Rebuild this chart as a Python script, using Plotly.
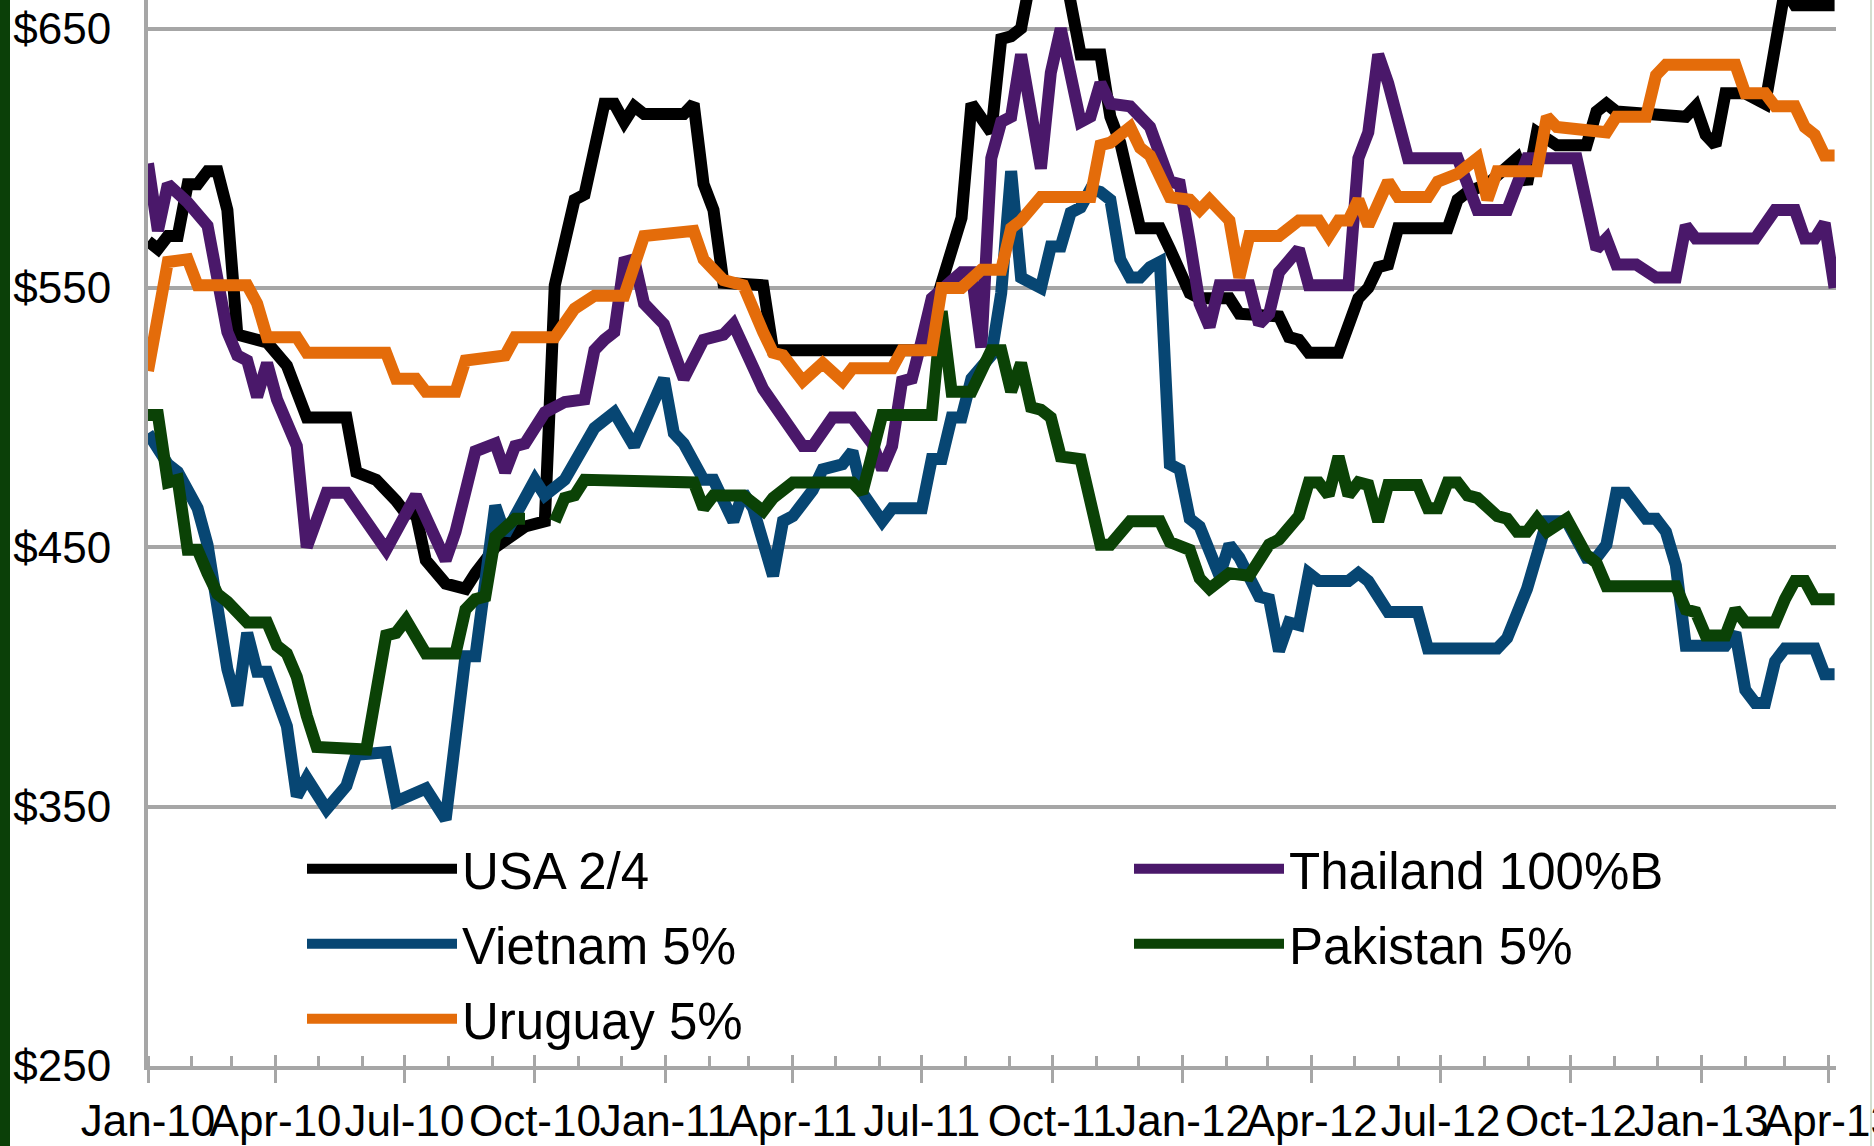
import pandas as pd
import plotly.graph_objects as go

# ---------------- data (weekly observations, week 0 = 1 Jan 2010) ----------------
START = "2010-01-01"

usa_weeks = [0, 1, 2, 3, 4, 5, 6, 7, 8, 9, 12, 14, 16, 20, 21, 23, 25, 26, 27, 28, 30, 32, 33, 35, 38, 40,
             41, 43, 44, 46, 47, 48, 49, 50, 54, 55, 56, 57, 58, 62, 63, 78, 80, 82, 83, 85, 86, 87, 88, 89,
             90, 91, 92, 94, 96, 97, 98, 100, 102, 103, 105, 106, 109, 110, 114, 115, 116, 117, 120, 122, 123,
             124, 125, 126, 131, 132, 133, 135, 138, 139, 140, 142, 145, 146, 147, 148, 153, 155, 156, 157,
             158, 159, 161, 163, 165, 166, 170]
usa_values = [568, 565, 570, 570, 590, 590, 595, 595, 580, 532, 529, 520, 500, 500, 479, 476, 468, 463, 463, 445,
              436, 434, 440, 450, 458, 460, 551, 584, 586, 621, 621, 614, 620, 617, 617, 621, 590, 580, 552, 551,
              526, 526, 552, 577, 621, 610, 646, 647, 650, 672, 690, 690, 680, 640, 640, 616, 606, 573, 573, 565,
              548, 546, 546, 540, 539, 531, 530, 525, 525, 546, 550, 558, 559, 573, 573, 584, 587, 590, 600, 590,
              610, 605, 605, 618, 621, 618, 616, 616, 620, 609, 605, 625, 625, 621, 665, 659, 659]

thai_weeks = [0, 1, 2, 4, 6, 7, 8, 9, 10, 11, 12, 13, 15, 16, 18, 20, 24, 27, 30, 31, 33, 35, 36, 37, 38, 40, 42,
              44, 45, 46, 47, 48, 49, 50, 52, 54, 55, 56, 58, 59, 62, 66, 67, 69, 71, 73, 74, 75, 76, 77, 78, 79,
              82, 83, 84, 85, 86, 87, 88, 90, 91, 92, 94, 95, 96, 97, 99, 101, 103, 104, 105, 106, 107, 108, 111,
              112, 113, 114, 116, 117, 121, 122, 123, 124, 125, 127, 132, 134, 137, 139, 144, 146, 147, 148, 150,
              152, 154, 155, 156, 162, 164, 166, 167, 168, 169, 170]
thai_values = [598, 572, 590, 583, 574, 551, 533, 524, 522, 508, 521, 507, 489, 450, 471, 471, 449, 470, 445, 456,
               487, 490, 479, 489, 490, 502, 506, 507, 526, 530, 533, 560, 561, 544, 536, 515, 522, 530, 532, 536,
               511, 489, 489, 500, 500, 490, 480, 489, 514, 515, 530, 546, 556, 556, 527, 600, 614, 616, 640, 596,
               633, 650, 614, 616, 629, 621, 620, 612, 591, 590, 568, 544, 535, 551, 551, 536, 540, 556, 565, 551,
               551, 600, 610, 640, 629, 600, 600, 580, 580, 600, 600, 565, 569, 559, 559, 554, 554, 574, 569, 569,
               580, 580, 569, 569, 575, 550]

viet_weeks = [0, 2, 3, 5, 6, 8, 9, 10, 11, 12, 14, 15, 16, 18, 20, 21, 24, 25, 28, 30, 32, 33, 35, 36, 39, 40, 42,
              45, 47, 49, 52, 53, 54, 56, 57, 59, 60, 61, 63, 64, 65, 67, 68, 70, 71, 72, 74, 75, 78, 79, 80, 81,
              82, 83, 85, 86, 87, 88, 90, 91, 92, 93, 94, 95, 96, 97, 98, 99, 100, 101, 102, 103, 104, 105, 106,
              108, 109, 110, 112, 113, 114, 115, 116, 117, 118, 121, 122, 123, 125, 128, 129, 136, 137, 139, 141,
              143, 145, 146, 147, 148, 149, 151, 152, 153, 154, 155, 159, 160, 161, 162, 163, 164, 165, 168, 169,
              170]
viet_values = [494, 482, 479, 465, 451, 403, 389, 417, 402, 402, 381, 354, 361, 349, 358, 370, 371, 352, 357, 345,
               408, 408, 466, 455, 476, 470, 476, 496, 502, 489, 515, 494, 490, 476, 476, 460, 471, 465, 439, 460,
               462, 472, 480, 482, 487, 471, 460, 465, 465, 484, 484, 500, 500, 515, 524, 548, 595, 554, 550, 566,
               566, 579, 581, 588, 587, 584, 561, 554, 554, 558, 560, 482, 480, 461, 458, 439, 451, 446, 431, 430,
               410, 421, 420, 440, 437, 437, 440, 437, 425, 425, 411, 411, 415, 434, 460, 460, 446, 446, 451, 471,
               471, 461, 461, 456, 443, 412, 412, 417, 395, 390, 390, 406, 411, 411, 401, 401]

pak_weeks = [0, 1, 2, 3, 4, 5, 6, 7, 8, 10, 12, 13, 14, 15, 16, 17, 22, 24, 25, 26, 28, 31, 32, 33, 34, 35, 37, 38,
             39, 41, 42, 43, 44, 55, 56, 57, 60, 62, 63, 65, 71, 72, 74, 79, 80, 81, 83, 85, 86, 87, 88, 89, 90,
             91, 92, 94, 96, 97, 99, 102, 103, 105, 106, 107, 109, 111, 113, 114, 116, 117, 118, 119, 120, 121,
             122, 123, 124, 125, 128, 129, 130, 131, 132, 133, 134, 136, 137, 138, 139, 140, 141, 143, 145, 146,
             147, 154, 155, 156, 157, 159, 160, 161, 164, 165, 166, 167, 168, 170]
pak_values = [501, 501, 475, 476, 449, 449, 440, 432, 429, 421, 421, 412, 409, 400, 385, 373, 372, 416, 417, 422,
              409, 409, 426, 430, 431, 454, 461, 461, None, 460, 469, 470, 476, 475, 465, 470, 470, 464, 469, 475,
              475, 471, 501, 501, 541, 510, 510, 526, 526, 510, 521, 504, 503, 500, 485, 484, 451, 451, 460, 460,
              452, 449, 438, 434, 440, 439, 451, 453, 462, 475, 475, 470, 485, 470, 475, 474, 460, 474, 474, 465,
              465, 475, 475, 470, 469, 462, 461, 456, 456, 461, 456, 461, 447, 444, 435, 435, 426, 425, 416, 416,
              426, 421, 421, 430, 437, 437, 430, 430]

uru_weeks = [0, 1, 2, 4, 5, 10, 11, 12, 15, 16, 24, 25, 27, 28, 31, 32, 36, 37, 41, 43, 45, 48, 49, 50, 55, 56, 58,
             60, 62, 63, 64, 66, 68, 70, 71, 75, 76, 79, 80, 82, 84, 86, 87, 88, 90, 95, 96, 97, 98, 99, 100, 101,
             103, 105, 106, 107, 109, 110, 111, 114, 116, 118, 119, 120, 121, 122, 123, 125, 126, 129, 130, 132,
             134, 135, 136, 140, 141, 142, 147, 148, 151, 152, 153, 160, 161, 163, 164, 166, 167, 168, 169, 170]
uru_values = [518, 540, 560, 561, 551, 551, 544, 531, 531, 525, 525, 515, 515, 510, 510, 522, 524, 531, 531, 542,
              547, 547, 557, 570, 572, 561, 553, 551, 533, 525, 524, 514, 521, 514, 519, 519, 526, 526, 550, 550,
              557, 557, 573, 576, 585, 585, 605, 606, 609, 612, 604, 601, 585, 584, 580, 584, 576, 554, 570, 570,
              576, 576, 570, 576, 576, 584, 574, 591, 585, 585, 591, 594, 600, 584, 595, 595, 616, 612, 610, 616,
              616, 632, 636, 636, 625, 625, 620, 620, 612, 609, 601, 601]

series_names = ["USA 2/4", "Thailand 100%B", "Vietnam 5%", "Pakistan 5%", "Uruguay 5%"]
series_colors = ["#000000", "#4A186A", "#074673", "#0B4206", "#E46C0A"]

quarter_ticks = ["2010-01-01", "2010-04-01", "2010-07-01", "2010-10-01", "2011-01-01", "2011-04-01",
                 "2011-07-01", "2011-10-01", "2012-01-01", "2012-04-01", "2012-07-01", "2012-10-01",
                 "2013-01-01", "2013-04-01"]
quarter_labels = ["Jan-10", "Apr-10", "Jul-10", "Oct-10", "Jan-11", "Apr-11", "Jul-11", "Oct-11",
                  "Jan-12", "Apr-12", "Jul-12", "Oct-12", "Jan-13", "Apr-13"]
y_ticks = [250, 350, 450, 550, 650]
y_labels = ["$250", "$350", "$450", "$550", "$650"]

# ---------------- figure ----------------
W, H = 1874, 1146
ML, MR, MT, MB = 148, 38, 0, 80
PW, PH = W - ML - MR, H - MT - MB
GRID = "#A6A6A6"
FONT = "Liberation Sans, Arial, sans-serif"


def week_dates(weeks):
    start = pd.Timestamp(START)
    return [start + pd.Timedelta(days=7 * w) for w in weeks]


all_weeks = [usa_weeks, thai_weeks, viet_weeks, pak_weeks, uru_weeks]
all_values = [usa_values, thai_values, viet_values, pak_values, uru_values]
legend_ids = ["legend", "legend2", "legend3", "legend4", "legend5"]
# legend slot: (left px of legend box, row-centre px from top of figure)
COL1, COL2 = 302, 1129
ROW1, ROW2, ROW3 = 869, 944, 1019
legend_slots = [(COL1, ROW1), (COL2, ROW1), (COL1, ROW2), (COL2, ROW2), (COL1, ROW3)]

fig = go.Figure()
for name, color, wk, vals, lg in zip(series_names, series_colors, all_weeks, all_values, legend_ids):
    fig.add_trace(go.Scatter(
        x=week_dates(wk), y=vals, name=name, mode="lines",
        line=dict(color=color, width=12), connectgaps=False, legend=lg,
    ))

# empty helper trace so the overlay axis (inner half of the major ticks) is drawn
fig.add_trace(go.Scatter(x=[], y=[], xaxis="x2", showlegend=False, hoverinfo="skip"))

month_ticks = list(pd.date_range(quarter_ticks[0], quarter_ticks[-1], freq="MS"))
x_range = ["2010-01-01", "2013-04-06"]

leg_common = dict(orientation="h", xanchor="left", yanchor="middle", itemwidth=150,
                  bgcolor="rgba(0,0,0,0)", font=dict(family=FONT, size=51, color="#000000"),
                  borderwidth=0, itemclick=False, itemdoubleclick=False)
legend_layout = {}
for lg, (px, py) in zip(legend_ids, legend_slots):
    legend_layout[lg] = dict(leg_common, x=(px - ML) / PW, y=1 - (py - MT) / PH)

fig.update_layout(
    width=W, height=H,
    margin=dict(l=ML, r=MR, t=MT, b=MB, autoexpand=False),
    paper_bgcolor="white", plot_bgcolor="white",
    font=dict(family=FONT, color="#000000"),
    showlegend=True,
    **legend_layout,
    xaxis=dict(
        type="date", range=x_range, showgrid=False, zeroline=False, automargin=False,
        showline=True, linecolor=GRID, linewidth=4,
        tickmode="array", tickvals=quarter_ticks, ticktext=quarter_labels, tickangle=0,
        ticklabeloverflow="allow",
        ticks="outside", ticklen=13, tickwidth=3, tickcolor=GRID,
        tickfont=dict(family=FONT, size=44, color="#000000"),
        ticklabelstandoff=0,
        minor=dict(tickmode="array", tickvals=month_ticks, ticks="inside",
                   ticklen=10, tickwidth=3, tickcolor=GRID, showgrid=False),
    ),
    xaxis2=dict(
        type="date", range=x_range, overlaying="x", matches="x", anchor="y", side="bottom",
        showgrid=False, zeroline=False, showline=False, showticklabels=False, automargin=False,
        tickmode="array", tickvals=quarter_ticks, ticks="inside", ticklen=11,
        tickwidth=3, tickcolor=GRID,
    ),
    yaxis=dict(
        range=[250, 661], tickmode="array", tickvals=y_ticks, ticktext=y_labels,
        showgrid=True, gridcolor=GRID, gridwidth=4, zeroline=False, automargin=False,
        showline=True, linecolor=GRID, linewidth=4, ticks="",
        tickfont=dict(family=FONT, size=44, color="#000000"),
        ticklabelstandoff=24,
    ),
    shapes=[
        dict(type="rect", xref="paper", yref="paper", x0=-ML / PW, x1=(10 - ML) / PW,
             y0=-MB / PH, y1=1, fillcolor="#0B4008", line=dict(width=0), layer="above"),
        dict(type="line", xref="paper", yref="paper", x0=(1871 - ML) / PW, x1=(1871 - ML) / PW,
             y0=-MB / PH, y1=1, line=dict(color="#D3DFD0", width=2), layer="above"),
    ],
)

# remove the browser's default page margin so the figure fills the window exactly
fig.write_html("out.html", config={"displayModeBar": False},
               post_script="document.body.style.margin='0px';")
